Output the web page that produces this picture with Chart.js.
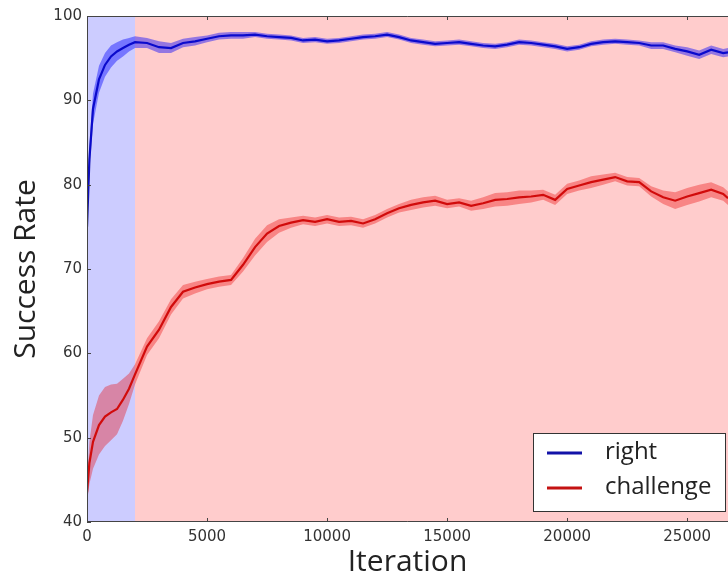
<!DOCTYPE html>
<html>
<head>
<meta charset="utf-8">
<script src="https://cdn.jsdelivr.net/npm/chart.js@4"></script>
<style>
  html, body { margin: 0; padding: 0; background: #fff; }
  #wrap { width: 728px; height: 580px; }
</style>
</head>
<body>
<div id="wrap"><canvas id="rateChart"></canvas></div>
<script>
const iterations = [
  0, 100, 250, 500, 750, 1000, 1250, 1500, 1750, 2000,
  2500, 3000, 3500, 4000, 4500, 5000, 5500, 6000, 6500, 7000,
  7500, 8000, 8500, 9000, 9500, 10000, 10500, 11000, 11500, 12000,
  12500, 13000, 13500, 14000, 14500, 15000, 15500, 16000, 16500, 17000,
  17500, 18000, 18500, 19000, 19500, 20000, 20500, 21000, 21500, 22000,
  22500, 23000, 23500, 24000, 24500, 25000, 25500, 26000, 26500,
  26700
];
const rightRate = [
  75, 83, 89, 92.5, 94.2, 95.2, 95.8, 96.2, 96.6, 96.9,
  96.8, 96.3, 96.2, 96.8, 97.0, 97.3, 97.6, 97.7, 97.7, 97.8,
  97.6, 97.5, 97.4, 97.1, 97.2, 97.0, 97.1, 97.3, 97.5, 97.6,
  97.8, 97.5, 97.1, 96.9, 96.7, 96.8, 96.9, 96.7, 96.5, 96.4,
  96.6, 96.9, 96.8, 96.6, 96.4, 96.1, 96.3, 96.7, 96.9, 97.0,
  96.9, 96.8, 96.5, 96.5, 96.1, 95.8, 95.4, 96.0, 95.6,
  95.7
];
const rightSpread = [
  0.8, 1.5, 1.8, 1.6, 1.4, 1.3, 1.1, 1.0, 0.8, 0.7,
  0.6, 0.7, 0.6, 0.5, 0.5, 0.4, 0.4, 0.4, 0.4, 0.3,
  0.3, 0.3, 0.3, 0.3, 0.3, 0.3, 0.3, 0.3, 0.3, 0.3,
  0.3, 0.3, 0.3, 0.3, 0.3, 0.3, 0.3, 0.3, 0.3, 0.3,
  0.3, 0.3, 0.3, 0.3, 0.3, 0.3, 0.3, 0.3, 0.3, 0.3,
  0.3, 0.3, 0.4, 0.4, 0.4, 0.5, 0.5, 0.5, 0.5,
  0.5
];
const challengeRate = [
  43.5, 47, 49.5, 51.5, 52.5, 53, 53.4, 54.5, 55.8, 57.5,
  60.8, 62.8, 65.5, 67.3, 67.8, 68.2, 68.5, 68.7, 70.5, 72.6,
  74.2, 75.1, 75.5, 75.8, 75.6, 75.9, 75.6, 75.7, 75.4, 75.9,
  76.6, 77.2, 77.6, 77.9, 78.1, 77.7, 77.9, 77.5, 77.8, 78.2,
  78.3, 78.5, 78.6, 78.8, 78.2, 79.5, 79.9, 80.3, 80.6, 80.9,
  80.4, 80.3, 79.2, 78.5, 78.1, 78.6, 79.0, 79.4, 78.9,
  78.4
];
const challengeSpread = [
  1.2, 2.5, 3.2, 3.5, 3.5, 3.3, 3.0, 2.5, 1.8, 1.2,
  1.0, 1.0, 0.9, 0.8, 0.7, 0.6, 0.6, 0.6, 0.8, 1.0,
  1.0, 0.8, 0.6, 0.5, 0.5, 0.5, 0.5, 0.5, 0.5, 0.5,
  0.5, 0.5, 0.6, 0.6, 0.6, 0.5, 0.5, 0.6, 0.7, 0.8,
  0.8, 0.8, 0.7, 0.6, 0.6, 0.6, 0.6, 0.7, 0.6, 0.5,
  0.5, 0.5, 0.6, 0.8, 1.0, 1.0, 1.0, 0.9, 0.8,
  0.8
];
const seriesNames = ['right', 'challenge'];
const xTicks = [0, 5000, 10000, 15000, 20000, 25000];
const yTicks = [40, 50, 60, 70, 80, 90, 100];
const warmupEnd = 2000;
const xMax = 26700;

const lineColors = ['#1212a8', '#c41212'];
const bandColors = ['rgba(0, 0, 255, 0.42)', 'rgba(235, 0, 0, 0.35)'];
const tickFont = '"DejaVu Sans", sans-serif';
const labelFont = '"Open Sans", sans-serif';

function points(ys) {
  return iterations.map((x, i) => ({ x: x, y: ys[i] }));
}

function seriesDatasets(mean, spread, idx) {
  const lo = mean.map((v, i) => v - spread[i]);
  const hi = mean.map((v, i) => v + spread[i]);
  return [
    { data: points(lo), borderWidth: 0, pointRadius: 0, fill: false },
    { data: points(hi), borderWidth: 0, pointRadius: 0, fill: '-1', backgroundColor: bandColors[idx] },
    { label: seriesNames[idx], data: points(mean), borderColor: lineColors[idx], borderWidth: 2.2, pointRadius: 0, fill: false }
  ];
}

// shaded phases behind the curves, axes frame with inward ticks, legend box
const framePlugin = {
  id: 'framePlugin',
  beforeDatasetsDraw(chart) {
    const { ctx, chartArea: a, scales: { x } } = chart;
    const split = x.getPixelForValue(warmupEnd);
    ctx.save();
    ctx.fillStyle = 'rgb(204, 204, 255)';
    ctx.fillRect(a.left, a.top, split - a.left, a.bottom - a.top);
    ctx.fillStyle = 'rgb(255, 204, 204)';
    ctx.fillRect(split, a.top, a.right - split, a.bottom - a.top);
    ctx.restore();
  },
  afterDatasetsDraw(chart) {
    const { ctx, chartArea: a, scales: { x, y } } = chart;
    ctx.save();
    ctx.strokeStyle = '#444';
    ctx.lineWidth = 1;
    ctx.beginPath();
    ctx.moveTo(a.right, a.top + 0.5);
    ctx.lineTo(a.left + 0.5, a.top + 0.5);
    ctx.lineTo(a.left + 0.5, a.bottom - 0.5);
    ctx.lineTo(a.right, a.bottom - 0.5);
    xTicks.forEach(v => {
      const px = Math.round(x.getPixelForValue(v)) + 0.5;
      ctx.moveTo(px, a.bottom); ctx.lineTo(px, a.bottom - 4);
      ctx.moveTo(px, a.top); ctx.lineTo(px, a.top + 4);
    });
    yTicks.forEach(v => {
      const py = Math.round(y.getPixelForValue(v)) + 0.5;
      ctx.moveTo(a.left, py); ctx.lineTo(a.left + 4, py);
    });
    ctx.stroke();

    // legend
    const bw = 192, bh = 78;
    const bx = a.right - bw - 3, by = a.bottom - bh - 11;
    ctx.fillStyle = '#fff';
    ctx.fillRect(bx, by, bw, bh);
    ctx.strokeStyle = '#333';
    ctx.strokeRect(bx + 0.5, by + 0.5, bw, bh);
    ctx.font = '24px ' + labelFont;
    ctx.textBaseline = 'middle';
    seriesNames.forEach((name, i) => {
      const ly = by + 20 + i * 35;
      ctx.strokeStyle = lineColors[i];
      ctx.lineWidth = 3;
      ctx.beginPath();
      ctx.moveTo(bx + 14, ly);
      ctx.lineTo(bx + 49, ly);
      ctx.stroke();
      ctx.fillStyle = '#222';
      ctx.fillText(name, bx + 72, ly - 1);
    });
    ctx.restore();
  }
};

new Chart(document.getElementById('rateChart'), {
  type: 'line',
  data: {
    datasets: [
      ...seriesDatasets(rightRate, rightSpread, 0),
      ...seriesDatasets(challengeRate, challengeSpread, 1)
    ]
  },
  options: {
    responsive: true,
    maintainAspectRatio: false,
    animation: false,
    layout: { padding: { top: 16, right: 0, left: 0, bottom: 0 } },
    elements: { line: { tension: 0 } },
    plugins: {
      legend: { display: false },
      tooltip: { enabled: false }
    },
    scales: {
      x: {
        type: 'linear',
        min: 0,
        max: xMax,
        afterBuildTicks(scale) { scale.ticks = xTicks.map(v => ({ value: v })); },
        ticks: {
          padding: 6,
          maxRotation: 0,
          autoSkip: false,
          color: '#333',
          font: { size: 15, family: tickFont },
          callback: v => String(v)
        },
        grid: { display: false, drawTicks: false },
        border: { display: false },
        title: {
          display: true,
          text: 'Iteration',
          color: '#222',
          font: { size: 30, family: labelFont },
          padding: { top: 0, bottom: 0 }
        },
        afterFit(scale) { scale.height = 58; }
      },
      y: {
        min: 40,
        max: 100,
        afterBuildTicks(scale) { scale.ticks = yTicks.map(v => ({ value: v })); },
        ticks: {
          padding: 5,
          color: '#333',
          font: { size: 15, family: tickFont }
        },
        grid: { display: false, drawTicks: false },
        border: { display: false },
        title: {
          display: true,
          text: 'Success Rate',
          color: '#222',
          font: { size: 30, family: labelFont },
          padding: { top: 8, bottom: 0 }
        },
        afterFit(scale) { scale.width = 87; }
      }
    }
  },
  plugins: [framePlugin]
});
</script>
</body>
</html>
